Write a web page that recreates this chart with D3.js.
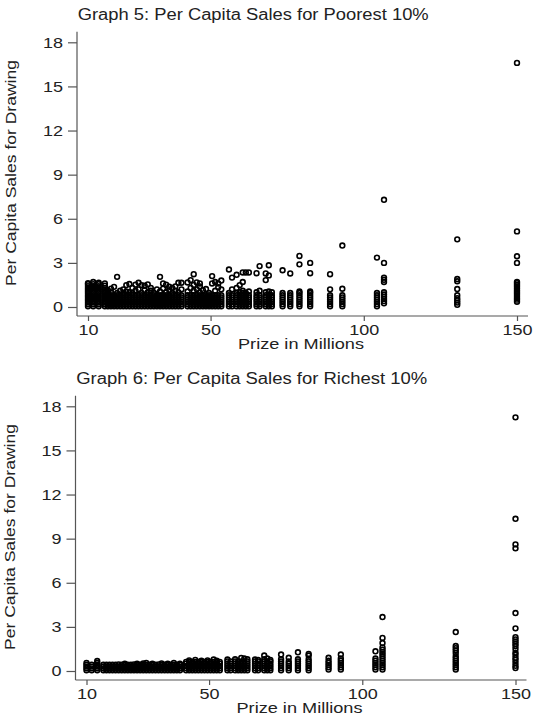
<!DOCTYPE html>
<html lang="en">
<head>
<meta charset="UTF-8">
<title>Per Capita Sales</title>
<script src="https://cdn.jsdelivr.net/npm/d3@7"></script>
<style>
  body { margin: 0; background: #fff; }
  svg text { font-family: "Liberation Sans", Arial, sans-serif; fill: #222; }
</style>
</head>
<body>
<script>
// prize levels (millions) of the drawings, shared by both graphs
var prizes = [
  10, 11.7, 13.5, 15.5, 16.5, 17.5, 18.5, 19.5, 20.5, 21.5,
  22.5, 23.5, 24.5, 25.5, 26.5, 27.5, 28.5, 29.5, 30.5, 31.5,
  32.5, 33.5, 34.5, 35.5, 36.5, 37.5, 38.5, 39.5, 40.5, 42.5,
  43.5, 44.5, 45.5, 46.5, 47.5, 48.5, 49.5, 50.5, 51.5, 52.5,
  53.5, 56, 57, 58.5, 59.5, 60.5, 61.5, 62.5, 65, 66,
  68, 69, 70, 73.5, 76, 79, 82.5, 89, 93, 104.3,
  106.6, 130.5, 150
];

// Graph 5: per capita sales, poorest 10% (one list per prize level)
var poorSales = [
  [0.05,0.18,0.3,0.42,0.55,0.68,0.8,0.93,1.05,1.18,1.3,1.42,1.55,1.62],
  [0.05,0.18,0.3,0.42,0.55,0.68,0.8,0.93,1.05,1.18,1.3,1.42,1.55,1.7],
  [0.05,0.18,0.3,0.42,0.55,0.68,0.8,0.93,1.05,1.18,1.3,1.42,1.55,1.65],
  [0.05,0.18,0.3,0.42,0.55,0.68,0.8,0.93,1.05,1.18,1.3,1.45,1.6],
  [0.05,0.2,0.35,0.5,0.65,0.8,0.95,1.15],
  [0.05,0.2,0.35,0.5,0.65,0.8,1.0,1.25],
  [0.05,0.2,0.35,0.5,0.65,0.8,1.37],
  [0.05,0.2,0.35,0.5,0.65,0.8,0.95,2.05],
  [0.05,0.2,0.35,0.5,0.65,0.8,1.1],
  [0.05,0.2,0.35,0.5,0.65,0.8,0.95,1.2],
  [0.05,0.2,0.35,0.5,0.65,0.8,1.05,1.49],
  [0.05,0.2,0.35,0.5,0.65,0.8,1.0,1.56],
  [0.05,0.2,0.35,0.5,0.65,0.8,0.95,1.3],
  [0.05,0.2,0.35,0.5,0.65,0.8,1.1,1.52],
  [0.05,0.2,0.35,0.5,0.65,0.8,1.2,1.65],
  [0.05,0.2,0.35,0.5,0.65,0.8,0.95,1.49],
  [0.05,0.2,0.35,0.5,0.65,0.8,1.15,1.45],
  [0.05,0.2,0.35,0.5,0.65,0.8,1.0,1.54],
  [0.05,0.2,0.35,0.5,0.65,0.8,1.1,1.3],
  [0.05,0.2,0.35,0.5,0.65,0.8,0.95],
  [0.05,0.2,0.35,0.5,0.65,0.8,1.2],
  [0.05,0.2,0.35,0.5,0.65,0.8,1.05,2.05],
  [0.05,0.2,0.35,0.5,0.65,0.8,1.25,1.6],
  [0.05,0.2,0.35,0.5,0.65,0.8,1.0,1.52],
  [0.05,0.2,0.35,0.5,0.65,0.8,1.15,1.38],
  [0.05,0.2,0.35,0.5,0.65,0.8,0.95,1.3],
  [0.05,0.2,0.35,0.5,0.65,0.8,1.1,1.4],
  [0.05,0.2,0.35,0.5,0.65,0.8,1.0,1.65],
  [0.05,0.2,0.35,0.5,0.65,0.8,1.2,1.65],
  [0.05,0.2,0.35,0.5,0.65,0.8,1.05,1.67],
  [0.05,0.2,0.35,0.5,0.65,0.8,1.3,1.83],
  [0.05,0.2,0.35,0.5,0.65,0.8,1.1,1.5,2.23],
  [0.05,0.2,0.35,0.5,0.65,0.8,1.2,1.67],
  [0.05,0.2,0.35,0.5,0.65,0.8,1.0,1.4,1.6],
  [0.05,0.2,0.35,0.5,0.65,0.8,1.15],
  [0.05,0.2,0.35,0.5,0.65,0.8,1.22],
  [0.05,0.2,0.35,0.5,0.65,0.8,0.95],
  [0.05,0.2,0.35,0.5,0.65,0.8,1.6,2.1],
  [0.05,0.2,0.35,0.5,0.65,0.8,1.1,1.7],
  [0.05,0.2,0.35,0.5,0.65,0.8,1.35,1.6],
  [0.05,0.2,0.35,0.5,0.65,0.8,1.2,1.8],
  [0.05,0.2,0.35,0.5,0.65,0.8,0.95,2.55],
  [0.05,0.2,0.35,0.5,0.65,0.8,1.2,2.0],
  [0.05,0.2,0.35,0.5,0.65,0.8,0.95,1.3,2.19],
  [0.05,0.2,0.35,0.5,0.65,0.8,1.0,1.49],
  [0.05,0.2,0.35,0.5,0.65,0.8,0.95,1.1,1.7,2.35],
  [0.05,0.2,0.35,0.5,0.65,0.8,0.95,2.35],
  [0.05,0.2,0.35,0.5,0.65,0.8,1.05,2.35],
  [0.05,0.2,0.35,0.5,0.65,0.8,1.0,2.3],
  [0.05,0.2,0.35,0.5,0.65,0.8,1.1,2.78],
  [0.05,0.2,0.35,0.5,0.65,0.8,1.0,1.83,2.28],
  [0.05,0.2,0.35,0.5,0.65,0.8,1.05,2.15,2.84],
  [0.05,0.2,0.35,0.5,0.65,0.8,1.0],
  [0.05,0.2,0.35,0.5,0.65,0.8,0.95,2.5],
  [0.05,0.2,0.35,0.5,0.65,0.8,0.95,2.28],
  [0.05,0.2,0.35,0.5,0.65,0.8,0.95,1.05,2.9,3.47],
  [0.05,0.2,0.35,0.5,0.65,0.8,0.95,1.05,2.3,3.0],
  [0.05,0.2,0.35,0.5,0.65,0.8,1.2,2.23],
  [0.05,0.2,0.35,0.5,0.65,0.8,1.24,4.18],
  [0.05,0.2,0.35,0.5,0.65,0.8,0.95,3.36],
  [0.25,0.4,0.55,0.7,0.85,1.0,1.7,1.85,2.0,3.0,7.29],
  [0.15,0.3,0.45,0.6,0.8,1.22,1.75,1.9,4.6],
  [0.36,0.5,0.62,0.75,0.88,1.0,1.12,1.25,1.38,1.5,1.62,1.71,3.0,3.45,5.14,16.6]
];

// Graph 6: per capita sales, richest 10%
var richSales = [
  [0.05,0.18,0.3,0.42,0.55],
  [0.05,0.18,0.3,0.42],
  [0.05,0.18,0.3,0.42,0.55,0.68],
  [0.05,0.18,0.3,0.42],
  [0.05,0.18,0.3,0.42],
  [0.05,0.18,0.3,0.42],
  [0.05,0.18,0.3,0.42],
  [0.05,0.18,0.3,0.42],
  [0.05,0.18,0.3,0.45],
  [0.05,0.18,0.3,0.42],
  [0.05,0.18,0.3,0.42,0.5],
  [0.05,0.18,0.3,0.42],
  [0.05,0.18,0.3,0.42],
  [0.05,0.18,0.3,0.45],
  [0.05,0.18,0.3,0.42,0.5],
  [0.05,0.18,0.3,0.42],
  [0.05,0.18,0.3,0.42,0.52],
  [0.05,0.18,0.3,0.42,0.55],
  [0.05,0.18,0.3,0.42],
  [0.05,0.18,0.3,0.42,0.5],
  [0.05,0.18,0.3,0.42],
  [0.05,0.18,0.3,0.45],
  [0.05,0.18,0.3,0.42,0.52],
  [0.05,0.18,0.3,0.42],
  [0.05,0.18,0.3,0.42,0.5],
  [0.05,0.18,0.3,0.42],
  [0.05,0.18,0.3,0.42,0.55],
  [0.05,0.18,0.3,0.42],
  [0.05,0.18,0.3,0.42,0.5],
  [0.05,0.2,0.35,0.5,0.62],
  [0.05,0.2,0.35,0.5,0.62,0.72],
  [0.05,0.2,0.35,0.5,0.62],
  [0.05,0.2,0.35,0.5,0.62,0.75],
  [0.05,0.2,0.35,0.5,0.62],
  [0.05,0.2,0.35,0.5,0.62,0.7],
  [0.05,0.2,0.35,0.5,0.62],
  [0.05,0.2,0.35,0.5,0.62,0.72],
  [0.05,0.2,0.35,0.5,0.62],
  [0.05,0.2,0.35,0.5,0.62,0.78],
  [0.05,0.2,0.35,0.5,0.62,0.7],
  [0.05,0.2,0.35,0.5,0.62],
  [0.05,0.2,0.35,0.5,0.65,0.78],
  [0.05,0.2,0.35,0.5,0.65],
  [0.05,0.2,0.35,0.5,0.65,0.8],
  [0.05,0.2,0.35,0.5,0.65],
  [0.05,0.2,0.35,0.5,0.65,0.89],
  [0.05,0.2,0.35,0.5,0.65,0.85],
  [0.05,0.2,0.35,0.5,0.65,0.8],
  [0.05,0.2,0.35,0.5,0.65,0.78],
  [0.05,0.2,0.35,0.5,0.65,0.75],
  [0.05,0.2,0.35,0.5,0.65,0.8,1.05],
  [0.05,0.2,0.35,0.5,0.65,0.85],
  [0.05,0.2,0.35,0.5,0.65,0.75],
  [0.05,0.2,0.35,0.5,0.65,0.8,1.12],
  [0.05,0.2,0.35,0.5,0.65,0.9],
  [0.05,0.2,0.35,0.5,0.65,0.8,1.27],
  [0.05,0.2,0.35,0.5,0.65,0.8,1.05,1.16],
  [0.1,0.25,0.4,0.55,0.7,0.9],
  [0.1,0.25,0.4,0.55,0.7,0.85,1.12],
  [0.1,0.25,0.4,0.55,0.7,0.85,1.34],
  [0.1,0.25,0.4,0.55,0.7,0.85,1.0,1.15,1.3,1.45,1.6,1.9,2.25,3.67],
  [0.1,0.25,0.4,0.55,0.7,0.85,1.0,1.23,1.4,1.55,1.7,2.65],
  [0.2,0.35,0.55,0.75,0.9,1.1,1.25,1.5,1.7,1.85,2.0,2.15,2.3,2.9,3.94,8.34,8.61,10.35,17.25]
];

var yTicks = [0, 3, 6, 9, 12, 15, 18];
var xTicks = [10, 50, 100, 150];
var titles = ["Graph 5: Per Capita Sales for Poorest 10%", "Graph 6: Per Capita Sales for Richest 10%"];
var xLabel = "Prize in Millions";
var yLabel = "Per Capita Sales for Drawing";

var w = 539, h = 720;
var svg = d3.select("body").append("svg")
  .attr("width", w)
  .attr("height", h);

var x = d3.scaleLinear().domain([10, 150]).range([88, 517]);
var y = d3.scaleLinear().domain([0, 18]).range([307, 42.3]);

// the original fonts are wider than Arial, so widen text a bit
function stretch(sel, k) {
  sel.each(function() {
    var len = this.getComputedTextLength();
    d3.select(this).attr("textLength", len * k).attr("lengthAdjust", "spacingAndGlyphs");
  });
}

function drawChart(g, title, sales) {
  g.append("text")
    .attr("x", 77.7).attr("y", 20)
    .style("font-size", "16px")
    .attr("textLength", 351).attr("lengthAdjust", "spacingAndGlyphs")
    .text(title);

  // axis lines
  g.append("line").attr("x1", 77).attr("x2", 77).attr("y1", 31.7).attr("y2", 316)
    .attr("stroke", "#555").attr("stroke-width", 1.2);
  g.append("line").attr("x1", 77).attr("x2", 528).attr("y1", 316).attr("y2", 316)
    .attr("stroke", "#555").attr("stroke-width", 1.2);

  var ya = g.append("g")
    .attr("transform", "translate(77,0)")
    .call(d3.axisLeft(y).tickValues(yTicks).tickSize(9).tickPadding(5));
  var xa = g.append("g")
    .attr("transform", "translate(0,316)")
    .call(d3.axisBottom(x).tickValues(xTicks).tickSize(5).tickPadding(3.5));

  [ya, xa].forEach(function(a) {
    a.select(".domain").remove();
    a.attr("font-family", null).attr("font-size", null);
    a.selectAll(".tick line").attr("stroke", "#555").attr("stroke-width", 1.2);
    a.selectAll(".tick text").attr("fill", "#222").style("font-size", "15px");
    stretch(a.selectAll(".tick text"), 1.2);
  });

  g.append("text")
    .attr("x", 301).attr("y", 349)
    .attr("text-anchor", "middle")
    .style("font-size", "15px")
    .attr("textLength", 126).attr("lengthAdjust", "spacingAndGlyphs")
    .text(xLabel);

  g.append("text")
    .attr("transform", "translate(16,173) rotate(-90)")
    .attr("text-anchor", "middle")
    .style("font-size", "15px")
    .attr("textLength", 226).attr("lengthAdjust", "spacingAndGlyphs")
    .text(yLabel);

  // one hollow marker per state observation
  var pts = [];
  prizes.forEach(function(p, i) {
    sales[i].forEach(function(v) { pts.push([p, v]); });
  });
  g.selectAll("circle.obs")
    .data(pts)
    .enter()
    .append("circle")
    .attr("class", "obs")
    .attr("cx", function(d) { return x(d[0]); })
    .attr("cy", function(d) { return y(d[1]); })
    .attr("r", 2.4)
    .attr("fill", "none")
    .attr("stroke", "#000")
    .attr("stroke-width", 1.6);
}

drawChart(svg.append("g"), titles[0], poorSales);
drawChart(svg.append("g").attr("transform", "translate(-1.5,364)"), titles[1], richSales);
</script>
</body>
</html>
